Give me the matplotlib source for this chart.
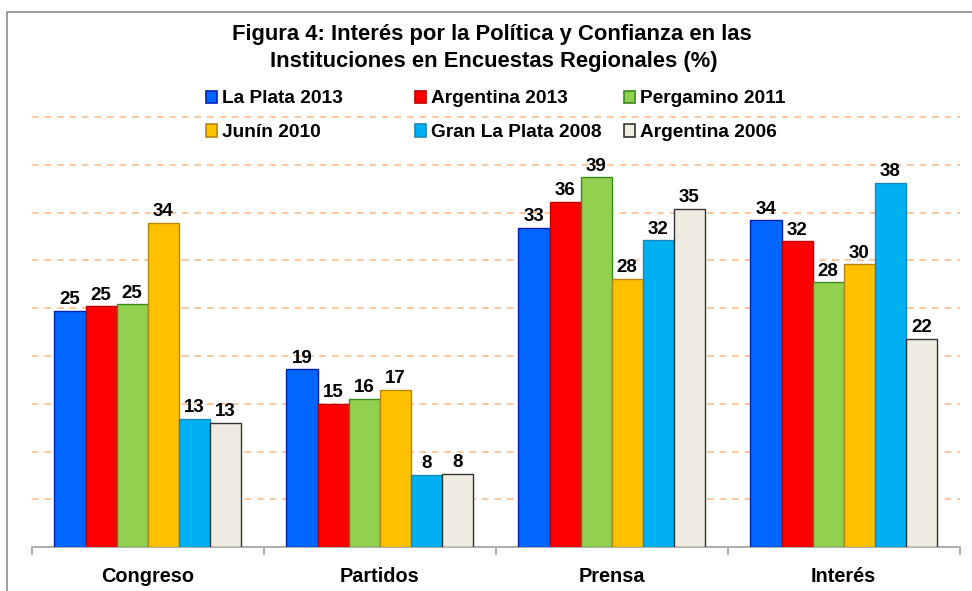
import matplotlib
matplotlib.use('Agg')
import matplotlib.pyplot as plt
from matplotlib.patches import Rectangle
from matplotlib.lines import Line2D
import numpy as np

plt.rcParams['font.family'] = ['Liberation Sans', 'DejaVu Sans']
plt.rcParams['font.weight'] = 'bold'

# data
categories = ['Congreso', 'Partidos', 'Prensa', 'Interés']
series = ['La Plata 2013', 'Argentina 2013', 'Pergamino 2011',
          'Junín 2010', 'Gran La Plata 2008', 'Argentina 2006']
la_plata_2013 = [24.7, 18.6, 33.4, 34.2]
argentina_2013 = [25.2, 15.0, 36.1, 32.0]
pergamino_2011 = [25.4, 15.5, 38.7, 27.7]
junin_2010 = [33.9, 16.5, 28.1, 29.6]
gran_la_plata_2008 = [13.4, 7.6, 32.1, 38.1]
argentina_2006 = [13.0, 7.7, 35.4, 21.8]
# numbers printed above the bars
lab_la_plata_2013 = [25, 19, 33, 34]
lab_argentina_2013 = [25, 15, 36, 32]
lab_pergamino_2011 = [25, 16, 39, 28]
lab_junin_2010 = [34, 17, 28, 30]
lab_gran_la_plata_2008 = [13, 8, 32, 38]
lab_argentina_2006 = [13, 8, 35, 22]

values = [la_plata_2013, argentina_2013, pergamino_2011,
          junin_2010, gran_la_plata_2008, argentina_2006]
labels = [lab_la_plata_2013, lab_argentina_2013, lab_pergamino_2011,
          lab_junin_2010, lab_gran_la_plata_2008, lab_argentina_2006]

colors = ['#0066FF', '#FF0000', '#92D050', '#FFC000', '#00B0F0', '#EEECE1']
edges = ['#0020B0', '#C00000', '#3C8A1E', '#B8860B', '#1C86B8', '#333333']

W, H = 972, 591
fig = plt.figure(figsize=(W / 100, H / 100), dpi=100)

def fx(x):
    return x / W

def fy(y):
    return 1 - y / H

# axes box in pixels: left 31.7, right 959.7, baseline 547.3, 9.56 px per unit
ymax = 47
ax = fig.add_axes([fx(31.7), fy(547.3), (959.7 - 31.7) / W, ymax * 9.56 / H])

x = np.arange(len(categories))
bw = 0.134
for j in range(len(series)):
    pos = x + (j - 2.5) * bw
    bars = ax.bar(pos, values[j], bw, color=colors[j], edgecolor=edges[j],
                  linewidth=1.0, zorder=3)
    for b, lab in zip(bars, labels[j]):
        ax.annotate(str(lab), (b.get_x() + b.get_width() / 2, b.get_height()),
                    xytext=(0, 2), textcoords='offset points',
                    ha='center', va='bottom', fontsize=13.5, fontweight='bold')

ax.set_xlim(-0.5, len(categories) - 0.5)
ax.set_ylim(0, ymax)
ax.set_yticks(range(5, 50, 5))
ax.tick_params(axis='y', length=0, labelleft=False)
ax.yaxis.grid(True, color='#F9BF8F', linestyle=(0, (4, 3.5)), linewidth=1.2)
ax.set_axisbelow(True)

ax.set_xticks(x)
ax.set_xticklabels(categories, fontsize=14.3, fontweight='bold')
ax.set_xticks(np.arange(-0.5, len(categories)), minor=True)
ax.tick_params(axis='x', which='major', length=0, pad=14)
ax.tick_params(axis='x', which='minor', length=6, color='#A0A0A0', width=1.2)

for s in ['top', 'right', 'left']:
    ax.spines[s].set_visible(False)
ax.spines['bottom'].set_color('#A0A0A0')
ax.spines['bottom'].set_linewidth(1.2)

# title
fig.text(fx(492), fy(40), 'Figura 4: Interés por la Política y Confianza en las',
         ha='center', va='baseline', fontsize=15.8, fontweight='bold')
fig.text(fx(494), fy(66.7), 'Instituciones en Encuestas Regionales (%)',
         ha='center', va='baseline', fontsize=15.8, fontweight='bold')

# legend, three columns filled row by row
for k, name in enumerate(series):
    row, col = k // 3, k % 3
    mx = 206 + col * 209
    base = 103.3 + row * 33.3
    fig.add_artist(Rectangle((fx(mx), fy(base)), 10.7 / W, 12.3 / H,
                             transform=fig.transFigure, facecolor=colors[k],
                             edgecolor=edges[k], linewidth=1.2))
    fig.text(fx(mx + 15.5), fy(base), name, ha='left', va='baseline',
             fontsize=13.8, fontweight='bold')

# chart area frame
fig.add_artist(Line2D([fx(7.3), fx(7.3), fx(W + 5)], [fy(H + 5), fy(11.7), fy(11.7)],
                      transform=fig.transFigure, color='#8C8C8C', linewidth=1.2))

fig.savefig('out.png', dpi=100)
